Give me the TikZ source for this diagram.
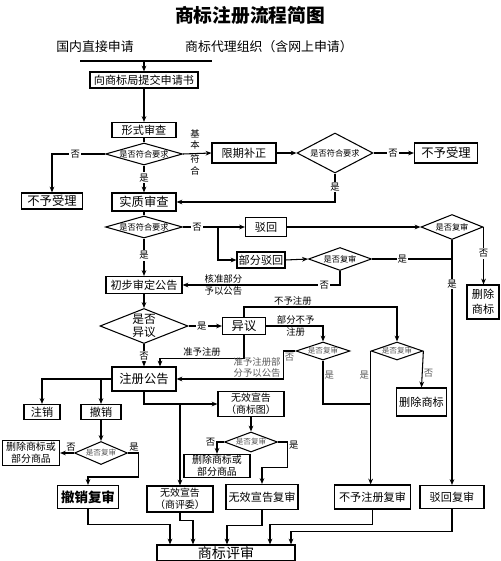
\documentclass[tikz,border=0pt]{standalone}
\usepackage{fontspec}
\setmainfont{Noto Sans CJK SC}
\usetikzlibrary{shapes.geometric, arrows.meta, calc}
\tikzset{
    box_plain/.style={
        rectangle, draw=black, line width=0.9pt, fill=white,
        inner sep=1pt, align=center, font=\fontsize{9.5}{11}\selectfont
    },
    box_big/.style={box_plain, font=\fontsize{10.5}{12}\selectfont},
    box_two/.style={box_plain, font=\fontsize{8.5}{10}\selectfont},
    dia_check/.style={
        diamond, draw=black, line width=0.9pt, fill=white, aspect=3.5,
        inner sep=0pt, align=center, font=\fontsize{7}{8}\selectfont
    },
    dia_small/.style={dia_check, aspect=3, font=\fontsize{6.5}{7.5}\selectfont, text=black!65},
    flow_arrow/.style={->, >={Stealth[length=5pt, width=4pt]}, line width=0.9pt, draw=black},
    flow_line/.style={line width=0.9pt, draw=black},
    yn_lbl/.style={font=\fontsize{8}{9}\selectfont, fill=white, inner sep=1pt},
    note_lbl/.style={font=\fontsize{8}{9.5}\selectfont, inner sep=1pt, align=center}
}
\begin{document}
\begin{tikzpicture}[x=0.03cm, y=-0.03cm]
    \useasboundingbox (0,0) rectangle (500,561);

    % --- Title & entry channels ---
    \node[font=\fontsize{16}{18}\selectfont\bfseries] (title) at (250,15) {商标注册流程简图};
    \node[font=\fontsize{11}{13}\selectfont] (direct) at (95,47) {国内直接申请};
    \node[font=\fontsize{11}{13}\selectfont] (agent) at (269,47) {商标代理组织（含网上申请）};
    \coordinate (hl) at (80,61);
    \coordinate (hr) at (212,61);
    \coordinate (hm) at (144,61);

    % --- Filing & formal examination ---
    \node[box_plain, minimum width=3.24cm, minimum height=0.48cm] (submit) at (144,80) {向商标局提交申请书};
    \node[box_plain, minimum width=1.92cm, minimum height=0.45cm] (formal) at (144,130) {形式审查};
    \node[dia_check, minimum width=2.31cm, minimum height=0.66cm] (d1) at (144,154) {是否符合要求};
    \node[box_big, minimum width=1.83cm, minimum height=0.48cm] (reject1) at (52,201) {不予受理};
    \node[box_big, minimum width=1.92cm, minimum height=0.54cm] (subst) at (144,202) {实质审查};
    \node[note_lbl] (basic) at (195,152) {基\\本\\[3pt]符\\合};
    \node[box_plain, minimum width=1.92cm, minimum height=0.6cm] (fix) at (244,153) {限期补正};
    \node[dia_check, minimum width=2.28cm, minimum height=1.2cm] (d2) at (335,153) {是否符合要求};
    \node[box_big, minimum width=1.89cm, minimum height=0.6cm] (reject2) at (446,153) {不予受理};

    % --- Substantive examination ---
    \node[dia_check, minimum width=2.31cm, minimum height=0.66cm] (d3) at (144,227) {是否符合要求};
    \coordinate (j1) at (218,227);
    \node[box_plain, minimum width=1.23cm, minimum height=0.57cm] (rej) at (266,227) {驳回};
    \node[box_plain, minimum width=1.44cm, minimum height=0.48cm] (partrej) at (261,260) {部分驳回};
    \node[dia_check, minimum width=1.89cm, minimum height=0.69cm] (dpr) at (340,259) {是否复审};
    \node[dia_check, minimum width=1.86cm, minimum height=0.75cm] (drv) at (452,227) {是否复审};
    \node[box_plain, minimum width=0.96cm, minimum height=1.02cm, font=\fontsize{9.5}{13}\selectfont] (del1) at (483,302) {删除\\商标};

    % --- Preliminary approval & opposition ---
    \node[box_plain, minimum width=2.28cm, minimum height=0.51cm] (prelim) at (144,285) {初步审定公告};
    \node[dia_check, aspect=2.5, minimum width=2.64cm, minimum height=1.05cm, font=\fontsize{10}{11}\selectfont] (d4) at (144,326) {是否\\异议};
    \node[box_big, minimum width=1.29cm, minimum height=0.51cm] (opp) at (244,326) {异议};
    \node[box_big, minimum width=1.92cm, minimum height=0.72cm] (reg) at (144,379) {注册公告};
    \node[dia_small, minimum width=1.62cm, minimum height=0.54cm] (dl) at (323,351) {是否复审};
    \node[dia_small, minimum width=1.47cm, minimum height=0.54cm] (dr) at (397,351) {是否复审};
    \node[box_plain, minimum width=1.5cm, minimum height=0.84cm] (del2) at (421.5,402) {删除商标};

    % --- After registration ---
    \node[box_plain, minimum width=1.08cm, minimum height=0.45cm] (cancel) at (42,412) {注销};
    \node[box_plain, minimum width=1.2cm, minimum height=0.45cm] (revoke) at (101,412) {撤销};
    \node[dia_small, minimum width=1.59cm, minimum height=0.69cm] (drev) at (101,453) {是否复审};
    \node[box_two, minimum width=1.71cm, minimum height=0.75cm] (delpart1) at (31,453) {删除商标或\\部分商品};
    \node[box_plain, minimum width=1.83cm, minimum height=0.69cm, font=\fontsize{11.5}{13}\selectfont\bfseries] (revrev) at (88,497) {撤销复审};
    \node[box_two, minimum width=1.98cm, minimum height=0.75cm] (inv1) at (251,404) {无效宣告\\（商标图）};
    \node[dia_small, minimum width=1.59cm, minimum height=0.6cm] (dinv) at (251,442) {是否复审};
    \node[box_two, minimum width=1.98cm, minimum height=0.69cm] (delpart2) at (217,466) {删除商标或\\部分商品};
    \node[box_two, minimum width=1.98cm, minimum height=0.78cm] (inv2) at (180,499) {无效宣告\\（商评委）};
    \node[box_plain, minimum width=2.16cm, minimum height=0.75cm] (invrev) at (262,497) {无效宣告复审};
    \node[box_plain, minimum width=2.28cm, minimum height=0.72cm] (refrev) at (372.5,497) {不予注册复审};
    \node[box_plain, minimum width=1.92cm, minimum height=0.69cm] (rejrev) at (452,497) {驳回复审};

    % --- Review board (bottom) ---
    \node[box_plain, minimum width=4.14cm, minimum height=0.48cm, font=\fontsize{12}{13}\selectfont] (tm) at (226,553) {商标评审};

    % =========================================================================
    % FLOW ARROWS
    % =========================================================================
    \draw[flow_line] (hl) -- (hr);
    \draw[flow_arrow] (hm) -- (submit);
    \draw[flow_arrow] (submit) -- (formal);
    \draw[flow_line] (formal) -- (d1);
    \draw[flow_arrow] (d1.west) -| node[yn_lbl, pos=0.28] {否} (reject1.north);
    \draw[flow_arrow] (d1.south) -- node[yn_lbl, pos=0.45] {是} (subst.north);
    \draw[flow_arrow] (d1.east) -- (fix.west);
    \draw[flow_arrow] (fix.east) -- (d2.west);
    \draw[flow_arrow] (d2.east) -- node[yn_lbl, pos=0.48] {否} (reject2.west);
    \draw[flow_arrow] (d2.south) |- node[yn_lbl, pos=0.24] {是} (subst.east);

    % substantive result
    \draw[flow_line] (subst) -- (d3);
    \draw[flow_line] (d3.east) -- node[yn_lbl, pos=0.4] {否} (j1);
    \draw[flow_arrow] (j1) -- (rej.west);
    \draw[flow_arrow] (j1) |- (partrej.west);
    \draw[flow_arrow] (partrej.east) -- (dpr.west);
    \draw[flow_line] (dpr.east) -- node[yn_lbl, pos=0.38] {是} (dpr.east -| drv.south);
    \draw[flow_arrow] (dpr.south) |- node[yn_lbl, pos=0.55] {否}
        node[note_lbl, above, pos=0.87] {核准部分}
        node[note_lbl, below, pos=0.87] {予以公告} (prelim.east);
    \draw[flow_arrow] (rej.east) -- (drv.west);
    \draw[flow_arrow] (drv.east) -- node[yn_lbl, pos=0.46] {否} (drv.east |- del1.north);
    \draw[flow_arrow] (drv.south) -- node[yn_lbl, pos=0.18] {是} (rejrev.north);
    \draw[flow_arrow] (d3.south) -- node[yn_lbl, pos=0.45] {是} (prelim.north);

    % opposition
    \draw[flow_arrow] (prelim) -- (d4);
    \draw[flow_arrow] (d4.east) -- node[yn_lbl, pos=0.4] {是} (opp.west);
    \draw[flow_arrow] (d4.south) -- node[yn_lbl, pos=0.53] {否} (reg.north);
    \draw[flow_arrow] (opp.north) -- ++(0,-10) -| node[note_lbl, above, pos=0.16] {不予注册} (dr.north);
    \draw[flow_arrow] (opp.east) -| node[note_lbl, above, pos=0.26] {部分不予}
        node[note_lbl, below, pos=0.26] {注册} (dl.north);
    \draw[flow_arrow] (opp.south) -- ++(0,23) -| node[note_lbl, above, pos=0.25] {准予注册} ($(reg.north)+(16,0)$);
    \draw[flow_arrow] (dl.west) -- node[note_lbl, below, text=black!65] {否} ++(-12,0) |-
        node[note_lbl, anchor=south east, pos=0.5, text=black!65, xshift=-1pt] {准予注册部\\分予以公告} (reg.east);
    \draw[flow_line] (dl.south) |- node[note_lbl, right, pos=0.17, text=black!65] {是} (dr.west |- inv1.west);
    \draw[flow_arrow] (dr.west) -- node[note_lbl, left, pos=0.18, text=black!65] {是} (dr.west |- refrev.north);
    \draw[flow_arrow] (dr.east) -- node[note_lbl, right, pos=0.6, text=black!65] {否} (del2.north);

    % after registration
    \draw[flow_arrow] (reg.west) -| (cancel.north);
    \draw[flow_arrow] (reg.west -| revoke.north) -- (revoke.north);
    \draw[flow_arrow] (revoke) -- (drev);
    \draw[flow_arrow] (drev.west) -- node[note_lbl, above, pos=0.2] {否} (delpart1.east);
    \draw[flow_arrow] (drev.east) -- node[note_lbl, above, pos=0.6] {是} ++(10,0) |- ($(revrev.north)+(0,-8)$) -- (revrev.north);
    \draw[flow_arrow] (reg.south) |- (inv1.west);
    \draw[flow_arrow] (inv2.north |- inv1.west) -- (inv2.north);
    \draw[flow_arrow] (inv1) -- (dinv);
    \draw[flow_arrow] (dinv.west) -| node[note_lbl, left, pos=0.5] {否} (delpart2.north);
    \draw[flow_arrow] (dinv.east) -- ++(9.5,0) |- node[note_lbl, right, pos=0.06] {是} ($(invrev.north)+(0,-16.5)$) -- (invrev.north);

    % into the review board
    \draw[flow_arrow] (revrev.south) -- ++(0,15) -| ($(tm.north)+(-56,0)$);
    \draw[flow_arrow] (inv2.south) -- ++(0,8) -| ($(tm.north)+(-33,0)$);
    \draw[flow_arrow] (invrev.south) -- ++(0,15.5) -| ($(tm.north)+(1,0)$);
    \draw[flow_arrow] (refrev.south) -- ++(0,15) -| ($(tm.north)+(44,0)$);
    \draw[flow_arrow] (rejrev.south) -- ++(0,22) -| ($(tm.north)+(65,0)$);

\end{tikzpicture}
\end{document}
